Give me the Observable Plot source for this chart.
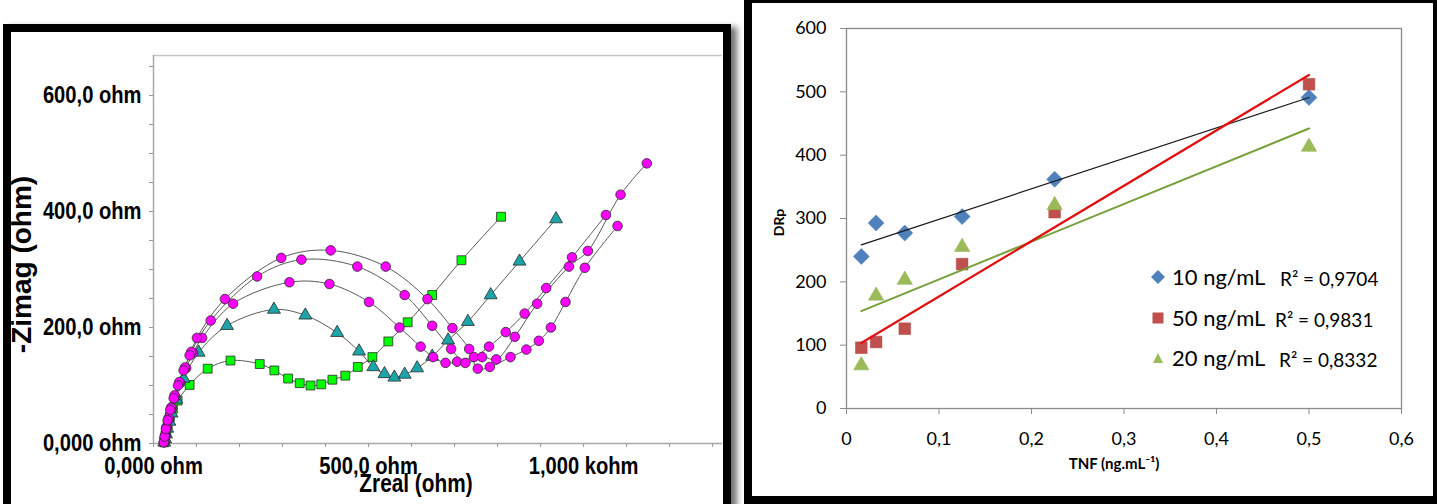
<!DOCTYPE html>
<html>
<head>
<meta charset="utf-8">
<script src="https://cdn.jsdelivr.net/npm/d3@7"></script>
<script src="https://cdn.jsdelivr.net/npm/@observablehq/plot@0.6"></script>
<style>
  html, body { margin: 0; padding: 0; background: #fff; }
  #page { position: relative; width: 1437px; height: 504px; overflow: hidden; background: #fff; }
  #left, #right { position: absolute; top: 0; }
  #left { left: 0; }
  #right { left: 740px; }
  .frame { position: absolute; box-sizing: border-box; border: 8px solid #000; pointer-events: none; }
  #leftFrame { left: 3px; top: 24px; width: 728px; height: 490px; box-shadow: 6px 3px 6px rgba(0,0,0,0.55); }
  #rightFrame { left: 744px; top: -5px; width: 697px; height: 509px; }
  #legend { position: absolute; left: 1150px; top: 262px; font-family: Lato, "Open Sans", sans-serif; color: #000; }
  .row { position: absolute; left: 0; height: 30px; white-space: nowrap; }
  .row svg { position: absolute; left: 0; top: 7px; }
  .row .name { position: absolute; left: 22px; top: 0; font-size: 22px; line-height: 30px; }
  .row .r2 { position: absolute; top: 2px; font-size: 19px; line-height: 30px; }
</style>
</head>
<body>
<div id="page">
  <div id="left"></div>
  <div id="right"></div>
  <div id="legend"></div>
  <div class="frame" id="leftFrame"></div>
  <div class="frame" id="rightFrame"></div>
</div>
<script>
// ---------------- Left panel: Nyquist plot ----------------
const circ1Zre = [24, 26, 29, 33, 39, 47, 57, 70, 84, 101, 166, 297, 412, 540, 637, 695, 734, 754, 782, 830, 867, 896, 924, 958, 1003, 1079];
const circ1Zim = [2, 12, 25, 40, 58, 78, 100, 126, 152, 182, 249, 320, 333, 305, 249, 199, 163, 129, 132, 149, 162, 177, 200, 244, 303, 375];
const circ2Zre = [25, 27, 30, 35, 41, 49, 60, 73, 88, 133, 241, 344, 474, 584, 648, 692, 725, 764, 797, 840, 892, 966, 1010, 1086, 1147];
const circ2Zim = [3, 14, 28, 44, 62, 83, 106, 131, 158, 212, 288, 317, 305, 256, 203, 163, 139, 149, 145, 184, 241, 305, 332, 429, 483];
const circ3Zre = [25, 28, 31, 36, 43, 51, 62, 76, 92, 113, 185, 316, 409, 501, 572, 621, 650, 679, 706, 745, 780, 819, 863, 913, 973, 1052];
const circ3Zim = [2, 13, 27, 42, 60, 80, 104, 130, 156, 182, 241, 278, 275, 244, 200, 167, 149, 139, 141, 149, 167, 192, 224, 268, 321, 394];
const triZre = [25, 27, 29, 32, 37, 42, 53, 70, 105, 171, 280, 353, 427, 478, 511, 537, 560, 584, 613, 648, 685, 731, 784, 851, 936];
const triZim = [2, 8, 16, 26, 38, 52, 76, 112, 157, 203, 231, 221, 191, 159, 132, 120, 114, 119, 130, 150, 178, 210, 256, 314, 387];
const sqZre = [25, 27, 30, 33, 38, 45, 56, 84, 126, 179, 247, 281, 313, 340, 365, 390, 416, 446, 475, 509, 546, 591, 648, 716, 808];
const sqZim = [2, 10, 20, 32, 46, 60, 74, 101, 129, 143, 137, 126, 112, 104, 100, 102, 110, 117, 132, 149, 176, 209, 256, 316, 391];

const zreDomain = [0, 1323];
const zimDomain = [0, 669];
const zreMinorTicks = [0, 100, 200, 300, 400, 500, 600, 700, 800, 900, 1000, 1100, 1200, 1300];
const zimMinorTicks = [0, 50, 100, 150, 200, 250, 300, 350, 400, 450, 500, 550, 600, 650];
const zreMajorTicks = [0, 500, 1000];
const zreTickLabels = ["0,000 ohm", "500,0 ohm", "1,000 kohm"];
const zimMajorTicks = [0, 200, 400, 600];
const zimTickLabels = ["0,000 ohm", "200,0 ohm", "400,0 ohm", "600,0 ohm"];
const leftXTitle = "Zreal (ohm)";
const leftYTitle = "-Zimag (ohm)";

const rowsOf = (name, xs, ys) => xs.map((x, i) => ({series: name, zre: x, zim: ys[i]}));
const nyq1 = rowsOf("c1", circ1Zre, circ1Zim);
const nyq2 = rowsOf("c2", circ2Zre, circ2Zim);
const nyq3 = rowsOf("c3", circ3Zre, circ3Zim);
const nyqT = rowsOf("tri", triZre, triZim);
const nyqS = rowsOf("sq", sqZre, sqZim);
const nyqAll = [...nyq1, ...nyq2, ...nyq3, ...nyqT, ...nyqS];

const arialB = "'Liberation Sans',Arial,sans-serif";
const zreLab = new Map(zreMajorTicks.map((t, i) => [t, zreTickLabels[i]]));
const zimLab = new Map(zimMajorTicks.map((t, i) => [t, zimTickLabels[i]]));

const leftPlot = Plot.plot({
  width: 740, height: 504,
  marginLeft: 153, marginRight: 18, marginTop: 55, marginBottom: 61,
  x: {domain: zreDomain},
  y: {domain: zimDomain},
  style: {background: "transparent", overflow: "visible", fontFamily: arialB, color: "#000"},
  marks: [
    Plot.ruleY([zimDomain[1]], {stroke: "#c4c4c4", strokeWidth: 1.5}),
    Plot.ruleX([0], {stroke: "#a8a8a8", strokeWidth: 1.5}),
    Plot.ruleY([0], {stroke: "#a8a8a8", strokeWidth: 1.5}),
    Plot.axisX(zreMinorTicks, {tickSize: 4, stroke: "#999", tickFormat: () => "", label: null}),
    Plot.axisY(zimMinorTicks, {tickSize: 4, stroke: "#999", tickFormat: () => "", label: null}),
    Plot.axisX(zreMajorTicks, {tickSize: 0, tickPadding: 13, tickFormat: d => zreLab.get(d), fontSize: 24, fontWeight: "bold", label: null}),
    Plot.axisY(zimMajorTicks, {tickSize: 0, tickPadding: 12, tickFormat: d => zimLab.get(d), fontSize: 24, fontWeight: "bold", label: null}),
    Plot.text([leftXTitle], {frameAnchor: "bottom", dx: -22, dy: 40, text: d => d, fontSize: 26, fontWeight: "bold", lineAnchor: "middle", textAnchor: "middle"}),
    Plot.text([leftYTitle], {frameAnchor: "left", dx: -131, dy: 15, rotate: -90, text: d => d, fontSize: 28, fontWeight: "bold", textAnchor: "middle", lineAnchor: "middle"}),
    Plot.line(nyqAll, {x: "zre", y: "zim", z: "series", curve: "catmull-rom", stroke: "#5a5a5a", strokeWidth: 1}),
    Plot.dot(nyqS, {x: "zre", y: "zim", symbol: "square", r: 5, fill: "#00ff00", stroke: "#2a2a2a", strokeWidth: 0.8}),
    Plot.dot(nyqT, {x: "zre", y: "zim", symbol: "triangle", r: 4.8, fill: "#1da4a8", stroke: "#2a2a2a", strokeWidth: 0.8}),
    Plot.dot(nyq3, {x: "zre", y: "zim", r: 4.8, fill: "#ff00ff", stroke: "#2a2a2a", strokeWidth: 0.8}),
    Plot.dot(nyq2, {x: "zre", y: "zim", r: 4.8, fill: "#ff00ff", stroke: "#2a2a2a", strokeWidth: 0.8}),
    Plot.dot(nyq1, {x: "zre", y: "zim", r: 4.8, fill: "#ff00ff", stroke: "#2a2a2a", strokeWidth: 0.8})
  ]
});
document.getElementById("left").appendChild(leftPlot);
// condense the axis texts (Arial Narrow look)
leftPlot.querySelectorAll("text").forEach(t => {
  const s = t.textContent;
  if (!s || s === leftYTitle) return;
  const w = t.getComputedTextLength();
  const f = s === leftXTitle ? 0.8 : 0.84;
  t.setAttribute("textLength", (w * f).toFixed(1));
  t.setAttribute("lengthAdjust", "spacingAndGlyphs");
});

// ---------------- Right panel: calibration ----------------
const tnf = [0.016, 0.032, 0.063, 0.125, 0.225, 0.5];
const drp10 = [240, 293, 277, 303, 362, 491];
const drp50 = [96, 105, 126, 228, 310, 512];
const drp20 = [68, 178, 203, 255, 321, 413];
const seriesNames = ["10 ng/mL", "50 ng/mL", "20 ng/mL"];
const r2Values = ["0,9704", "0,9831", "0,8332"];
const tnfTicks = [0, 0.1, 0.2, 0.3, 0.4, 0.5, 0.6];
const drpTicks = [0, 100, 200, 300, 400, 500, 600];
const rightXTitle = "TNF (ng.mL\u207B\u00B9)";
const rightYTitle = "DRp";

const cal = (xs, ys) => xs.map((x, i) => ({tnf: x, drp: ys[i]}));
const c10 = cal(tnf, drp10), c50 = cal(tnf, drp50), c20 = cal(tnf, drp20);
const font2 = "Lato,'Open Sans',sans-serif";

const rightPlot = Plot.plot({
  width: 697, height: 504,
  marginLeft: 106, marginRight: 36, marginTop: 28, marginBottom: 96,
  x: {domain: [0, 0.6]},
  y: {domain: [0, 600]},
  style: {background: "transparent", overflow: "visible", fontFamily: font2, color: "#000"},
  marks: [
    Plot.frame({stroke: "#8a8a8a", strokeWidth: 1.3}),
    Plot.axisY(drpTicks, {tickSize: 6, tickPadding: 14, stroke: "#8a8a8a", fontSize: 18, label: null}),
    Plot.axisX(tnfTicks, {tickSize: 6, tickPadding: 18, stroke: "#8a8a8a", fontSize: 18, tickFormat: d => String(d).replace(".", ","), label: null}),
    Plot.text([rightYTitle], {frameAnchor: "left", dx: -67, dy: 4, rotate: -90, text: d => d, fontSize: 14, fontWeight: "bold", textAnchor: "middle", lineAnchor: "middle"}),
    Plot.text([rightXTitle], {frameAnchor: "bottom", dx: -10, dy: 60, text: d => d, fontSize: 15, fontWeight: "bold", textAnchor: "middle"}),
    Plot.dot(c10, {x: "tnf", y: "drp", symbol: "diamond2", r: 7.2, fill: "#4f81bd", stroke: "#4a78b0", strokeWidth: 0.5}),
    Plot.dot(c50, {x: "tnf", y: "drp", symbol: "square", r: 6.6, fill: "#c0504d", stroke: "#b04845", strokeWidth: 0.5}),
    Plot.dot(c20, {x: "tnf", y: "drp", symbol: "triangle", r: 5.7, fill: "#9bbb59", stroke: "#8fae50", strokeWidth: 0.5}),
    Plot.linearRegressionY(c10, {x: "tnf", y: "drp", stroke: "#1a1a1a", strokeWidth: 1.2, ci: 0}),
    Plot.linearRegressionY(c20, {x: "tnf", y: "drp", stroke: "#77a13a", strokeWidth: 2, ci: 0}),
    Plot.linearRegressionY(c50, {x: "tnf", y: "drp", stroke: "#e01010", strokeWidth: 2.2, ci: 0})
  ]
});
document.getElementById("right").appendChild(rightPlot);

// ---------------- Legend (right panel) ----------------
const legendMarkers = [
  '<svg width="16" height="16"><path d="M8,1L15,8L8,15L1,8Z" fill="#4f81bd"/></svg>',
  '<svg width="16" height="16"><rect x="2.5" y="2.5" width="11" height="11" fill="#c0504d"/></svg>',
  '<svg width="16" height="16"><path d="M8,3L13,13L3,13Z" fill="#9bbb59"/></svg>'
];
const r2Left = [130, 125, 129];
const legend = document.getElementById("legend");
seriesNames.forEach((name, i) => {
  const row = document.createElement("div");
  row.className = "row";
  row.style.top = (i * 40.5) + "px";
  row.innerHTML = legendMarkers[i] +
    '<span class="name">' + name + '</span>' +
    '<span class="r2" style="left:' + r2Left[i] + 'px">R\u00B2 = ' + r2Values[i] + '</span>';
  legend.appendChild(row);
});
</script>
</body>
</html>
